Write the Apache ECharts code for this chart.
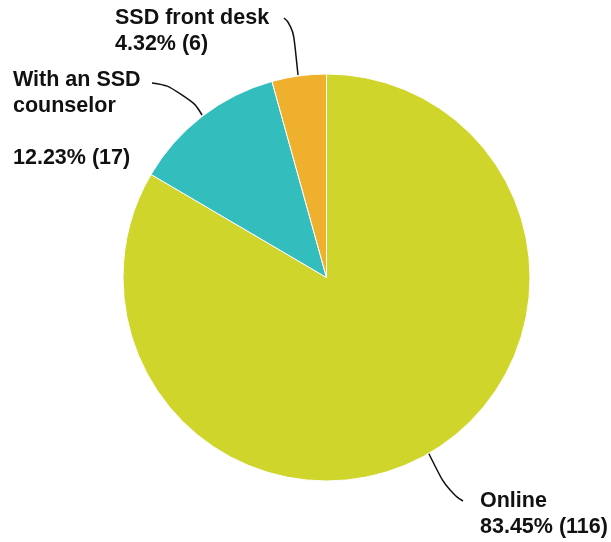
<!DOCTYPE html>
<html>
<head>
<meta charset="utf-8">
<script src="https://cdn.jsdelivr.net/npm/echarts@6/dist/echarts.min.js"></script>
<style>
  html, body { margin: 0; padding: 0; background: #ffffff; }
  #chart { width: 611px; height: 542px; }
</style>
</head>
<body>
<div id="chart"></div>
<script>
// Where students reached the service
const categories = ['Online', 'With an SSD\ncounselor', 'SSD front desk'];
const counts = [116, 17, 6];
const colors = ['#cfd52a', '#33bdbd', '#efb02d'];

// Label placement (top-left of text block) and leader line points, per slice
const labelSpots = [
  { x: 480, y: 488, line: [[428, 452], [448, 492], [463, 501]] },
  { x: 13, y: 67, line: [[202, 115], [186, 88], [152, 83]] },
  { x: 115, y: 5, line: [[298, 75], [293, 26], [284, 18]] }
];

const chart = echarts.init(document.getElementById('chart'), null, { renderer: 'canvas' });

const data = categories.map((name, i) => {
  const item = { name: name, value: counts[i], itemStyle: { color: colors[i] } };
  if (name.indexOf('\n') >= 0) {
    item.label = { formatter: '{b}\n\n{d}% ({c})' };
  }
  return item;
});

chart.setOption({
  backgroundColor: '#ffffff',
  animation: false,
  series: [{
    type: 'pie',
    center: [326.5, 277.5],
    radius: [0, 203.5],
    startAngle: 90,
    clockwise: true,
    percentPrecision: 2,
    data: data,
    itemStyle: { borderColor: '#ffffff', borderWidth: 1 },
    label: {
      show: true,
      position: 'outside',
      formatter: '{b}\n{d}% ({c})',
      fontFamily: 'Liberation Sans, Arial, sans-serif',
      fontWeight: 'bold',
      fontSize: 21.5,
      lineHeight: 26,
      color: '#111111',
      align: 'left',
      overflow: 'none',
      width: 300
    },
    labelLine: {
      show: true,
      smooth: 0.6,
      lineStyle: { color: '#111111', width: 1.5 }
    },
    labelLayout: function (params) {
      const s = labelSpots[params.dataIndex];
      return {
        x: s.x,
        y: s.y,
        align: 'left',
        verticalAlign: 'top',
        labelLinePoints: s.line,
        hideOverlap: false
      };
    }
  }]
});
</script>
</body>
</html>
